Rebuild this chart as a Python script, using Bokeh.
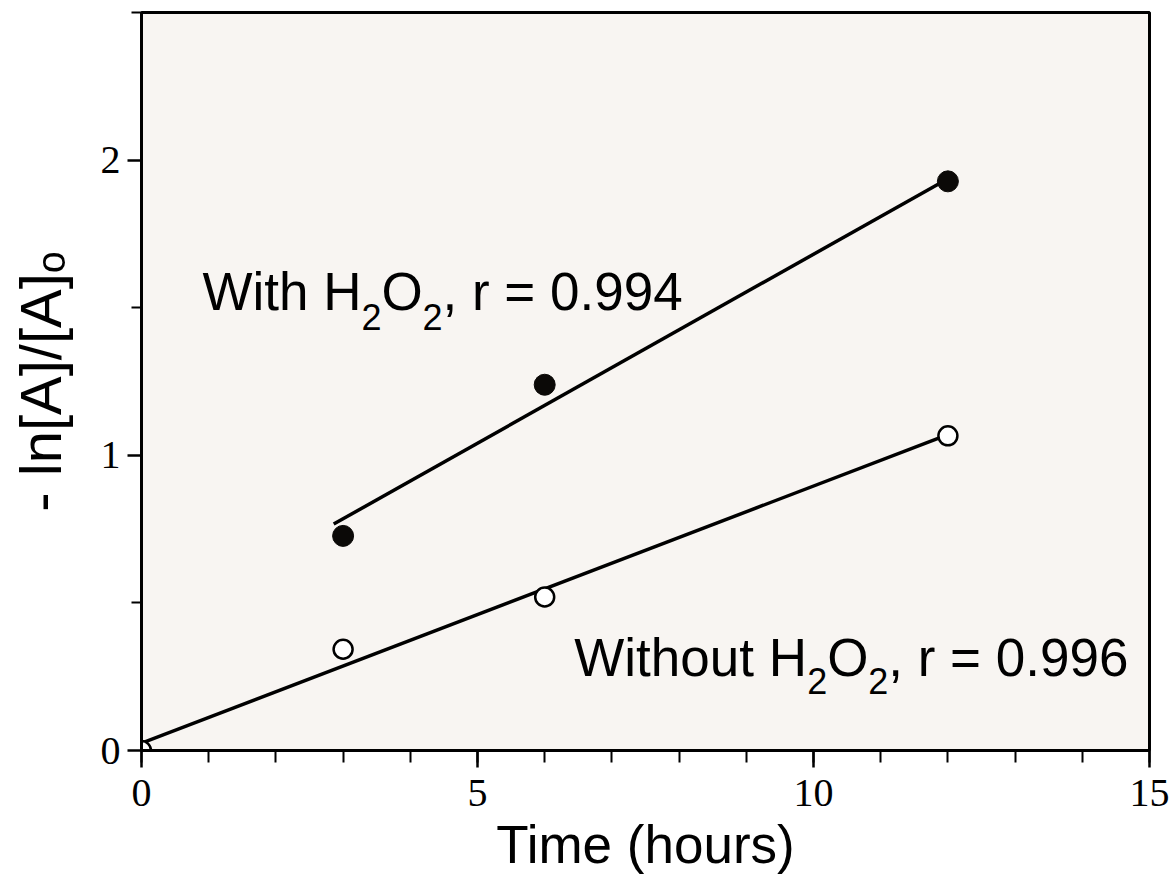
from bokeh.plotting import figure
from bokeh.models import Range1d, FixedTicker, Label
from bokeh.embed import file_html
from bokeh.resources import INLINE

# ---- data ----
time_with = [3, 6, 12]
lnA_with = [0.727, 1.239, 1.928]
time_without = [0, 3, 6, 12]
lnA_without = [0.0, 0.343, 0.52, 1.066]
fit_with_t = [2.86, 12]
fit_with_y = [0.767, 1.937]
fit_without_t = [0, 12]
fit_without_y = [0.025, 1.07]
x_major = [0, 5, 10, 15]
x_minor = list(range(0, 16))
y_major = [0, 1, 2]
y_minor = [0.5, 1.5, 2.5]

SANS = "Liberation Sans"
SERIF = "Liberation Serif"

p = figure(width=1169, height=876, frame_width=1008, frame_height=738,
           min_border_left=141, min_border_right=20, min_border_top=12, min_border_bottom=126,
           x_range=Range1d(0, 15), y_range=Range1d(0, 2.5),
           output_backend="svg", toolbar_location=None)
p.background_fill_color = "#f8f5f2"
p.border_fill_color = "white"
p.outline_line_color = "black"
p.outline_line_width = 3
p.grid.visible = False

p.xaxis.ticker = FixedTicker(ticks=x_major, minor_ticks=x_minor)
p.yaxis.ticker = FixedTicker(ticks=y_major, minor_ticks=y_minor)
for ax in (p.xaxis, p.yaxis):
    ax.axis_line_width = 3
    ax.axis_line_color = "black"
    ax.major_tick_in = 0
    ax.minor_tick_in = 0
    ax.major_tick_line_width = 2.5
    ax.minor_tick_line_width = 2
    ax.major_label_text_font = SERIF
    ax.major_label_text_font_size = "40px"
    ax.major_label_text_color = "black"
p.xaxis.major_tick_out = 17
p.xaxis.minor_tick_out = 12
p.xaxis.major_label_standoff = 12
p.yaxis.major_tick_out = 14
p.yaxis.minor_tick_out = 10
p.yaxis.major_label_standoff = 7

p.xaxis.axis_label = "Time (hours)"
p.xaxis.axis_label_text_font = SANS
p.xaxis.axis_label_text_font_size = "53px"
p.xaxis.axis_label_text_font_style = "normal"
p.xaxis.axis_label_text_color = "black"
p.xaxis.axis_label_standoff = 6

p.yaxis.axis_label = "- ln[A]/[A]\u2092"
p.yaxis.axis_label_text_font = SANS
p.yaxis.axis_label_text_font_size = "58px"
p.yaxis.axis_label_text_font_style = "normal"
p.yaxis.axis_label_text_color = "black"
p.yaxis.axis_label_standoff = 25

# fit lines
p.line(fit_with_t, fit_with_y, line_color="black", line_width=3.5)
p.line(fit_without_t, fit_without_y, line_color="black", line_width=3.5)

# points
p.scatter(time_with, lnA_with, size=21, fill_color="#0b0907", line_color="#0b0907")
p.scatter(time_without, lnA_without, size=19, fill_color="white", line_color="black", line_width=2.5)

BASE_FIX = 0.377  # baseline correction, in em

def add_pieces(x, y, pieces):
    # pieces: (text, font size px, dx along text, dy below baseline)
    for txt, size, dx, dy in pieces:
        p.add_layout(Label(x=x, y=y, text=txt, x_offset=dx, y_offset=dy + BASE_FIX * size,
                           text_font=SANS, text_font_size=f"{size}px", text_color="black",
                           text_align="left", text_baseline="alphabetic"))

# "With H2O2, r = 0.994"
add_pieces(0.908, 1.487, [("With H", 53, 0, 0), ("2", 36, 159, -19),
                          ("O", 53, 179, 0), ("2", 36, 220, -19),
                          (", r = 0.994", 53, 240, 0)])
# "Without H2O2,  r = 0.996"
add_pieces(6.44, 0.248, [("Without H", 53, 0, 0), ("2", 36, 233, -17),
                         ("O", 53, 253, 0), ("2", 36, 294, -17),
                         (",  r = 0.996", 53, 314, 0)])

open("out.html", "w").write(file_html(p, INLINE))
